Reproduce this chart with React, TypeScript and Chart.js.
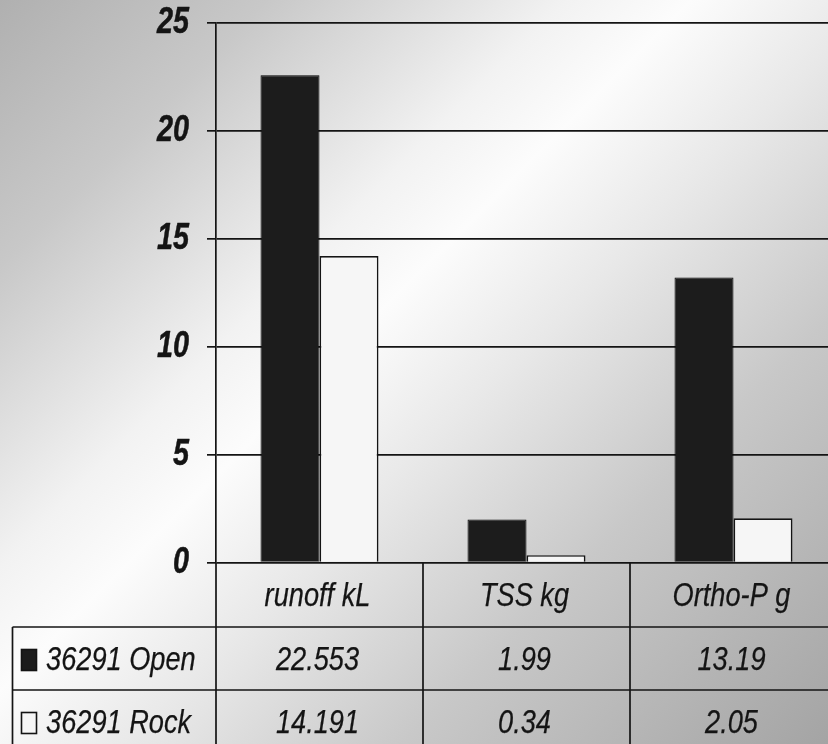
import React, { useEffect, useRef } from "react";
import { Chart, registerables } from "chart.js";

Chart.register(...registerables);

// Data
const categories = ["runoff kL", "TSS kg", "Ortho-P g"];
const seriesNames = ["36291 Open", "36291 Rock"];
const openValues = [22.553, 1.99, 13.19];
const rockValues = [14.191, 0.34, 2.05];
const yMin = 0;
const yMax = 25;
const yStep = 5;

// Styling / layout constants
const FONT = '"Liberation Sans", Arial, sans-serif';
const NARROW = 0.8; // horizontal squeeze for a narrow face
const INK = "#141414";
const DARK_FILL = "#1c1c1c";
const LIGHT_FILL = "#f6f6f6";
const CANVAS_W = 837;
const CANVAS_H = 744;
const PLOT_TOP = 22.5;
const PLOT_LEFT = 216;
const TABLE_H = 181.5;
const HEADER_H = 64.5;
const ROW_H = 63;
const TABLE_LEFT = 12.5;
const TICK_LABEL_RIGHT = 189;

const seriesFills = [DARK_FILL, LIGHT_FILL];
const seriesValues = [openValues, rockValues];

function narrowText(
  ctx: CanvasRenderingContext2D,
  text: string,
  x: number,
  y: number,
  align: CanvasTextAlign,
  weight: number
) {
  ctx.save();
  ctx.translate(x, y);
  ctx.scale(NARROW, 1);
  ctx.textAlign = align;
  ctx.fillText(text, 0, 0);
  if (weight > 0) {
    // a hairline stroke thickens the squeezed vertical stems
    ctx.lineWidth = weight;
    ctx.strokeStyle = ctx.fillStyle as string;
    ctx.lineJoin = "round";
    ctx.strokeText(text, 0, 0);
  }
  ctx.restore();
}

// Y tick labels in a condensed bold italic face, placed by the y scale.
const narrowTicksPlugin = {
  id: "narrowTicks",
  afterDraw(chart: any) {
    const ctx = chart.ctx as CanvasRenderingContext2D;
    const ys = chart.scales.y;
    ctx.save();
    ctx.fillStyle = INK;
    ctx.textBaseline = "middle";
    ctx.font = `italic bold 36px ${FONT}`;
    ys.ticks.forEach((t: any) => {
      narrowText(ctx, String(t.value), TICK_LABEL_RIGHT, ys.getPixelForValue(t.value) + 1, "right", 0.5);
    });
    ctx.restore();
  },
};

// Draws the data table (category header, legend keys and values) under the plot.
const dataTablePlugin = {
  id: "dataTable",
  afterDraw(chart: any) {
    const ctx = chart.ctx as CanvasRenderingContext2D;
    const area = chart.chartArea;
    const xs = chart.scales.x;
    const n = categories.length;
    const cw = n > 1 ? xs.getPixelForValue(1) - xs.getPixelForValue(0) : area.right - area.left;
    const top = area.bottom;
    const H = chart.height;

    ctx.save();
    ctx.strokeStyle = INK;
    ctx.lineWidth = 1.7;

    ctx.beginPath();
    // axis line continued through the table
    ctx.moveTo(area.left, top);
    ctx.lineTo(area.left, H);
    // column separators
    for (let i = 0; i < n; i++) {
      const bx = xs.getPixelForValue(i) + cw / 2;
      ctx.moveTo(bx, top);
      ctx.lineTo(bx, H);
    }
    // row separators
    const r1 = top + HEADER_H;
    const r2 = r1 + ROW_H;
    ctx.moveTo(TABLE_LEFT, r1);
    ctx.lineTo(chart.width, r1);
    ctx.moveTo(TABLE_LEFT, r2);
    ctx.lineTo(chart.width, r2);
    // left border of legend column
    ctx.moveTo(TABLE_LEFT, r1);
    ctx.lineTo(TABLE_LEFT, H);
    ctx.stroke();

    ctx.fillStyle = INK;
    ctx.textBaseline = "middle";
    ctx.font = `italic 34px ${FONT}`;

    // category header
    categories.forEach((c, i) => {
      narrowText(ctx, c, xs.getPixelForValue(i) - 2, top + HEADER_H / 2 + 2, "center", 0.25);
    });

    // series rows
    seriesNames.forEach((name, s) => {
      const cy = r1 + ROW_H * s + ROW_H / 2 + 2;
      // legend key
      ctx.fillStyle = seriesFills[s];
      ctx.fillRect(21.5, cy - 11, 15, 21);
      ctx.lineWidth = 1.6;
      ctx.strokeStyle = INK;
      ctx.strokeRect(21.5, cy - 11, 15, 21);
      ctx.fillStyle = INK;
      narrowText(ctx, name, 46, cy, "left", 0.25);
      seriesValues[s].forEach((v, i) => {
        narrowText(ctx, String(v), xs.getPixelForValue(i) - 2, cy, "center", 0.25);
      });
    });
    ctx.restore();
  },
};

export default function App() {
  const canvasRef = useRef<HTMLCanvasElement | null>(null);

  useEffect(() => {
    document.body.style.margin = "0";
    const canvas = canvasRef.current;
    if (!canvas) return;
    const chart = new Chart(canvas, {
      type: "bar",
      data: {
        labels: categories,
        datasets: [
          {
            label: seriesNames[0],
            data: openValues,
            backgroundColor: DARK_FILL,
            borderColor: "#000",
            borderWidth: 1,
          },
          {
            label: seriesNames[1],
            data: rockValues,
            backgroundColor: LIGHT_FILL,
            borderColor: INK,
            borderWidth: 1.7,
          },
        ],
      },
      options: {
        responsive: false,
        animation: false,
        events: [],
        layout: { padding: { top: PLOT_TOP, left: 0, right: 0, bottom: TABLE_H } },
        datasets: { bar: { categoryPercentage: 0.57, barPercentage: 1 } },
        plugins: {
          legend: { display: false },
          tooltip: { enabled: false },
        },
        scales: {
          x: { display: false },
          y: {
            min: yMin,
            max: yMax,
            afterFit(scale: any) {
              scale.width = PLOT_LEFT;
              scale.paddingTop = 0;
              scale.paddingBottom = 0;
            },
            border: { display: true, color: INK, width: 1.7 },
            grid: { color: INK, lineWidth: 1.7, tickLength: 9, drawTicks: true },
            ticks: {
              stepSize: yStep,
              padding: 18,
              color: "rgba(0,0,0,0)",
              font: { family: FONT, size: 36, weight: "bold", style: "italic" },
            },
          },
        },
      },
      plugins: [narrowTicksPlugin, dataTablePlugin],
    } as any);
    return () => chart.destroy();
  }, []);

  return (
    <div
      style={{
        width: 828,
        height: 744,
        overflow: "hidden",
        position: "relative",
        background:
          "linear-gradient(135deg, #b0b0b0 0%, #c8c8c8 17%, #f2f2f2 36%, #fcfcfc 44%, #e8e8e8 56%, #c8c8c8 73%, #a4a4a4 100%)",
      }}
    >
      <canvas ref={canvasRef} width={CANVAS_W} height={CANVAS_H} style={{ display: "block" }} />
    </div>
  );
}
